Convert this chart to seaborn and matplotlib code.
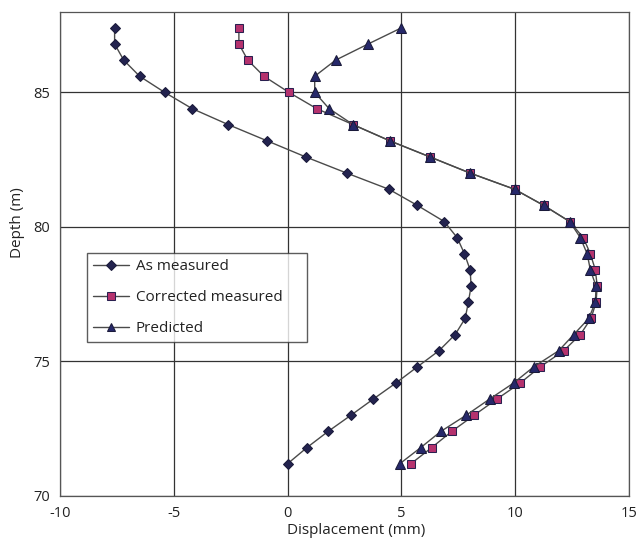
import matplotlib
matplotlib.use("Agg")
import matplotlib.pyplot as plt
import seaborn as sns
import pandas as pd

depth = [87.4, 86.8, 86.2, 85.6, 85.0, 84.4, 83.8, 83.2, 82.6, 82.0, 81.4, 80.8,
         80.2, 79.6, 79.0, 78.4, 77.8, 77.2, 76.6, 76.0, 75.4, 74.8, 74.2, 73.6,
         73.0, 72.4, 71.8, 71.2]

as_measured = [-7.6, -7.6, -7.2, -6.5, -5.4, -4.2, -2.6, -0.9, 0.8, 2.6, 4.45, 5.7,
               6.88, 7.45, 7.77, 8.02, 8.06, 7.94, 7.8, 7.36, 6.65, 5.7, 4.76, 3.76,
               2.78, 1.78, 0.85, 0.0]

corrected = [-2.14, -2.14, -1.75, -1.04, 0.06, 1.27, 2.88, 4.49, 6.26, 8.02, 9.97, 11.25,
             12.39, 12.99, 13.3, 13.52, 13.6, 13.55, 13.33, 12.86, 12.13, 11.1, 10.22, 9.19,
             8.19, 7.21, 6.33, 5.42]

predicted = [5.0, 3.54, 2.11, 1.19, 1.19, 1.82, 2.88, 4.49, 6.26, 8.02, 9.97, 11.25,
             12.39, 12.86, 13.16, 13.3, 13.55, 13.52, 13.23, 12.57, 11.91, 10.81, 9.93, 8.87,
             7.84, 6.73, 5.85, 4.93]

series_names = ["As measured", "Corrected measured", "Predicted"]
xticks = [-10, -5, 0, 5, 10, 15]
yticks = [70, 75, 80, 85]

sns.set_theme(style="white")
plt.rcParams['font.family'] = ['Open Sans', 'DejaVu Sans']
plt.rcParams['axes.unicode_minus'] = False

fig = plt.figure(figsize=(6.38, 5.46), dpi=100)
ax = fig.add_axes([0.094, 0.0916, 0.892, 0.887])

styles = [
    dict(marker="D", markersize=5.5, markerfacecolor="#23234f", markeredgecolor="#1a1a3a"),
    dict(marker="s", markersize=6, markerfacecolor="#b5326e", markeredgecolor="#2a2050"),
    dict(marker="^", markersize=6.5, markerfacecolor="#26286a", markeredgecolor="#1a1a3a"),
]
series = [as_measured, corrected, predicted]
for name, xs, st in zip(series_names, series, styles):
    df = pd.DataFrame({"disp": xs, "depth": depth})
    sns.lineplot(data=df, x="disp", y="depth", sort=False, estimator=None,
                 color="#4a4a4a", linewidth=1.0, label=name, ax=ax, **st)

ax.set_xlim(-10, 15)
ax.set_ylim(70, 88)
ax.set_xticks(xticks)
ax.set_yticks(yticks)
ax.grid(True, color="#333333", linewidth=0.9)
ax.set_axisbelow(True)
for s in ax.spines.values():
    s.set_color("#555555")
    s.set_linewidth(0.9)
ax.tick_params(axis="both", direction="out", length=5, width=0.9, color="#444444",
               labelsize=10.5, labelcolor="#222222", pad=2)
ax.set_xlabel("Displacement (mm)", fontsize=11, color="#222222")
ax.set_ylabel("Depth (m)", fontsize=11, color="#222222")
ax.xaxis.set_label_coords(0.52, -0.055)
ax.yaxis.set_label_coords(-0.062, 0.565)

leg = ax.legend(loc="upper left", bbox_to_anchor=(0.047, 0.31, 0.387, 0.192),
                mode="expand", borderaxespad=0,
                fontsize=11, frameon=True, fancybox=False, handlelength=2.4,
                labelspacing=1.05, borderpad=0.4, handletextpad=0.4, markerscale=0.85)
leg.get_frame().set_edgecolor("#333333")
leg.get_frame().set_linewidth(1.0)
for t in leg.get_texts():
    t.set_color("#222222")

fig.savefig("out.png", dpi=100)
